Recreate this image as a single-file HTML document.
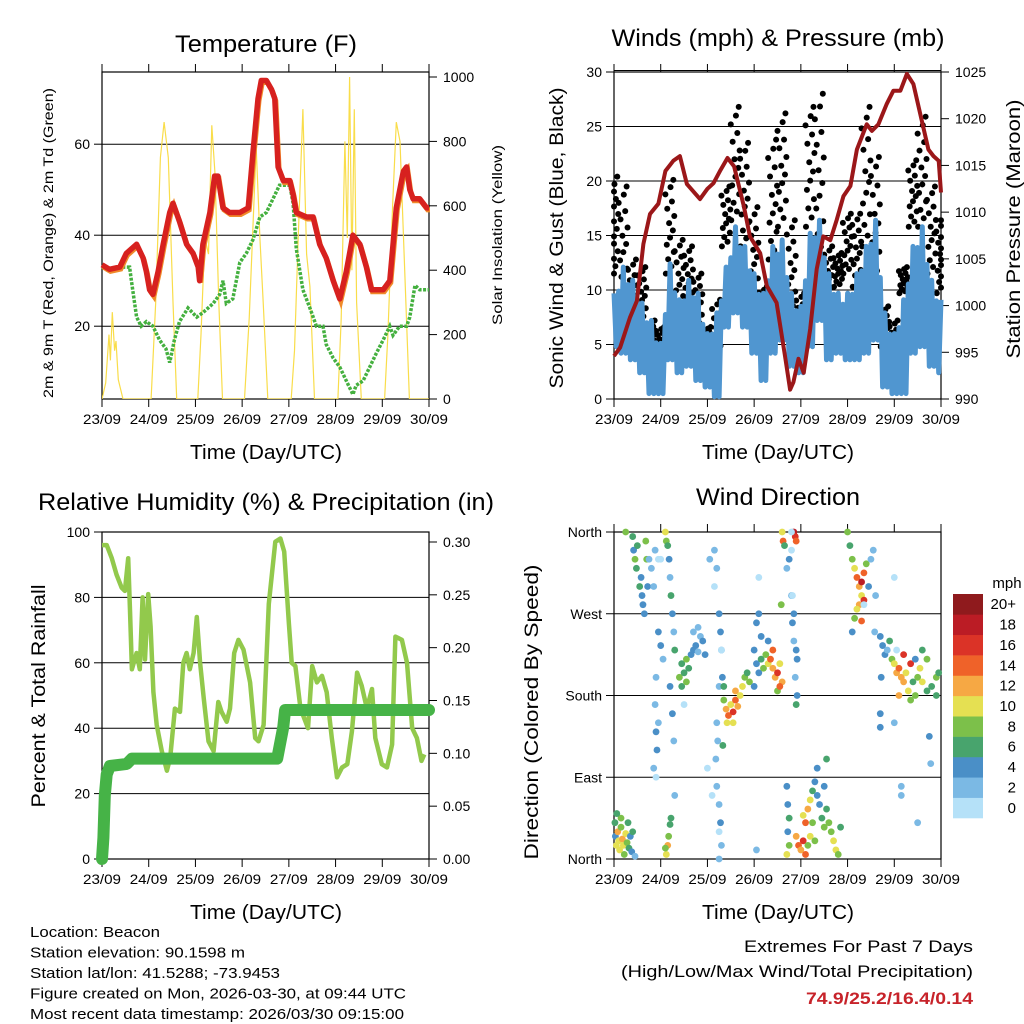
<!DOCTYPE html>
<html><head><meta charset="utf-8"><style>
html,body{margin:0;padding:0;background:#fff}
svg{display:block;font-family:"Liberation Sans",sans-serif}
</style></head><body>
<svg id="s" xmlns="http://www.w3.org/2000/svg" width="1024" height="1024" viewBox="0 0 1024 1024">
<rect width="1024" height="1024" fill="#fff"/>
</svg>
<script>
// ---------- DATA ----------
const dayLabels = ["23/09","24/09","25/09","26/09","27/09","28/09","29/09","30/09"];
// Temperature (F)
const tempDays = [0,0.16,0.38,0.52,0.74,0.88,0.95,1.02,1.09,1.2,1.31,1.45,1.52,1.66,1.81,1.95,2.06,2.09,2.16,2.31,2.41,2.48,2.59,2.73,2.95,3.13,3.23,3.34,3.41,3.52,3.63,3.7,3.77,3.88,4.02,4.09,4.16,4.38,4.52,4.66,4.8,4.95,5.09,5.23,5.37,5.52,5.66,5.77,5.87,6.02,6.16,6.3,6.45,6.52,6.59,6.66,6.8,6.95,7];
const temp2m = [33.5,32.5,33,36,38,35,32,28,27,32,38,45,47,43,38,36,33,30,38,45,53,53,46,45,45,46,58,70,74,74,72,70,55,52,52,49,45,44,44,38,35,30,26,32,40,38,33,28,28,28,30,46,54,55,50,48,48,46,46];
const dewDays = [0,0.16,0.38,0.59,0.63,0.74,0.84,0.95,1.09,1.23,1.37,1.45,1.55,1.66,1.84,2.03,2.16,2.38,2.52,2.59,2.66,2.8,2.95,3.09,3.23,3.38,3.52,3.66,3.8,4.02,4.09,4.16,4.3,4.45,4.59,4.73,4.8,4.95,5.09,5.23,5.37,5.44,5.59,5.73,5.87,6.02,6.16,6.23,6.37,6.52,6.59,6.7,6.8,7];
const dewPt = [33,32,33,33,30,22,20,21,20,17,15,12,17,21,24,22,23,25,27,30,25,26,34,36,39,44,45,48,51,51,47,37,28,24,20,20,16,13,11,8,5,7,8,11,14,17,20,18,20,20,22,29,28,28];
const solarDays = [0,0.08,0.15,0.18,0.22,0.27,0.3,0.35,0.45,1.05,1.15,1.25,1.33,1.42,1.52,1.6,2.05,2.12,2.2,2.28,2.35,2.42,2.5,2.58,3.05,3.15,3.25,3.3,3.38,3.45,3.55,4.05,4.12,4.2,4.3,4.38,4.45,4.55,5.05,5.12,5.2,5.25,5.3,5.35,5.4,5.45,5.55,6.05,6.12,6.22,6.3,6.38,6.48,6.58,7];
const solarVals = [0,50,200,120,270,150,180,60,0,0,300,750,860,750,300,0,0,200,500,450,850,700,300,0,0,250,600,780,500,300,0,0,150,500,900,450,350,0,0,250,800,500,1000,400,900,300,0,0,200,600,860,800,400,0,0];
// Winds (mph) & pressure (mb)
const windDays = [0,0.2,0.4,0.6,0.8,1.0,1.2,1.4,1.6,1.8,2.0,2.2,2.4,2.6,2.8,3.0,3.2,3.4,3.6,3.8,4.0,4.2,4.4,4.6,4.8,5.0,5.2,5.4,5.6,5.8,6.0,6.2,6.4,6.6,6.8,7.0];
const windHi = [9.7,12.1,10.9,8.8,7.2,5.1,12.4,9.1,10.9,9.7,6,7.9,12.1,15.8,14,11.5,9.7,14,14.6,9.7,8.5,15.2,16.4,11.5,9.7,9.7,11.5,14,16.4,7.9,6,9.1,14,15.8,10.9,9.1];
const windLo = [4.8,4.2,3.6,2.4,0.5,0.5,3.6,2.4,3,1.7,1.1,0.2,6.6,7.9,6.6,4.2,1.7,4.2,5.4,3,2.4,4.8,7.2,3.6,4.2,3.6,3.6,4.2,5.4,1.1,0.5,0.5,4.2,4.8,3,2.4];
const gustHi = [20.4,19.5,12.8,12.1,7.2,6.6,20.1,14.6,14,11.5,6.6,9.1,19.5,26.8,23.5,17.6,10.3,23.8,26.2,16.4,9.7,26.8,28,14,13.4,17,17,26.8,22.2,8.5,7.2,12.1,21.9,25.9,19.5,16.4];
const gustLo = [11.5,9.7,6.6,7.2,4.8,4.2,11.5,7.9,8.5,6.6,4.8,3.6,14,16.4,14,9.1,6.6,12.8,15.8,7.9,5.4,15.8,12.8,9.1,10.3,11.5,10.3,14,10.9,4.8,3.6,9.7,15.8,15.8,11.5,9.7];
const presDays = [0,0.13,0.34,0.49,0.63,0.77,0.95,1.1,1.27,1.41,1.56,1.84,2.0,2.13,2.28,2.43,2.57,2.78,2.91,3.13,3.27,3.48,3.66,3.77,3.84,3.95,4.06,4.2,4.34,4.48,4.63,4.77,4.91,5.06,5.2,5.41,5.52,5.66,5.84,5.98,6.13,6.27,6.41,6.73,6.84,6.95,7];
const pressure = [994.6,995.5,998.7,1000.5,1006.6,1009.8,1010.9,1014.4,1015.5,1016.0,1013.0,1011.4,1012.5,1013.1,1014.5,1015.8,1014.9,1010.6,1007.4,1005.6,1002.1,1000.3,994.6,991.0,991.8,994.3,992.8,997.5,1003.9,1007.4,1007.0,1009.2,1011.7,1012.8,1016.7,1019.4,1018.7,1019.4,1021.6,1023.0,1023.0,1024.8,1023.7,1016.7,1016.0,1015.5,1012.1];
// Relative humidity (%) & precipitation (in)
const rhDays = [0,0.1,0.21,0.31,0.42,0.49,0.56,0.6,0.64,0.74,0.81,0.87,0.92,0.99,1.04,1.1,1.17,1.28,1.39,1.46,1.56,1.67,1.74,1.81,1.88,1.96,2.03,2.1,2.18,2.28,2.39,2.49,2.56,2.67,2.74,2.83,2.92,3.03,3.17,3.28,3.35,3.46,3.57,3.71,3.82,3.9,4.0,4.06,4.14,4.25,4.41,4.5,4.6,4.71,4.81,4.92,5.03,5.14,5.25,5.35,5.46,5.56,5.67,5.78,5.85,5.99,6.1,6.21,6.28,6.42,6.53,6.64,6.74,6.84,6.9];
const rhVals = [96,96,92,87,83,82,92,76,58,63,58,80,61,81,71,51,41,33,27,31,46,45,60,63,58,63,74,60,49,36,33,48,45,42,46,63,67,64,54,37,36,41,78,97,98,94,72,60,59,46,40,59,54,56,51,37,25,28,29,39,57,53,46,52,37,29,28,35,68,67,60,40,37,30,32,53,53,52];
const rainDays = [0,0.03,0.06,0.1,0.17,0.53,0.64,3.75,3.88,3.92,7];
const rainVals = [0,0.02,0.06,0.08,0.088,0.09,0.095,0.095,0.125,0.141,0.141];
// Wind direction: [day, degrees, mph]
const dirDays=[],dirDeg=[],dirSpd=[];
const dirObs = [
[0.02,40,6],[0.03,25,4],[0.05,15,10],[0.08,30,12],[0.1,20,11],[0.12,10,10],[0.15,35,9],[0.18,22,12],[0.2,15,10],[0.22,5,8],[0.25,28,11],[0.28,18,9],[0.3,40,6],[0.32,12,7],[0.35,25,5],[0.38,8,4],[0.4,30,6],[0.15,45,8],[0.06,50,6],[0.45,3,3],
[1.12,5,10],[1.15,15,12],[1.17,25,8],[1.2,38,7],[1.22,45,6],[1.1,12,9],
[0.25,360,8],[0.4,355,6],[0.42,340,5],[0.45,330,8],[0.48,320,6],[0.5,345,7],[0.55,300,6],[0.58,310,4],[0.6,290,5],[0.62,280,4],[0.65,270,4],[0.68,350,8],[0.7,330,8],[0.72,300,4],[0.75,330,3],[0.8,320,3],[0.85,300,2],[0.88,340,3],
[0.95,250,4],[1.0,235,4],[1.05,220,2],[0.9,200,2],[0.88,170,3],[0.9,140,4],[0.92,120,4],[0.95,150,3],[0.85,100,2],[1.1,360,10],[1.12,350,8],[1.15,345,6],[1.18,330,4],[1.2,310,3],[1.22,290,6],[1.25,270,4],[1.28,250,3],[1.3,230,6],[1.2,190,4],[1.25,160,4],[1.28,130,3],[1.3,70,3],
[1.4,200,8],[1.45,215,6],[1.5,205,7],[1.55,220,8],[1.6,210,6],[1.65,225,5],[1.7,230,4],[1.75,235,4],[1.8,228,3],[1.85,245,3],[1.9,240,4],[1.95,225,4],[1.45,190,6],[1.55,195,8],[1.7,250,2],[1.8,255,3],
[2.15,340,2],[2.2,320,3],[2.25,270,4],[2.28,250,4],[2.3,230,3],[2.32,200,4],[2.25,190,3],[2.2,150,2],[2.22,130,3],[2.18,110,3],[2.2,80,2],[2.25,60,3],[2.28,40,4],[2.3,15,3],[2.25,0,2],[2.05,330,2],
[2.35,175,8],[2.4,165,12],[2.45,158,14],[2.5,170,10],[2.55,162,16],[2.6,175,14],[2.65,168,12],[2.7,180,10],[2.75,190,10],[2.8,200,8],[2.85,205,6],[2.9,195,8],[2.42,150,10],[2.55,150,10],[2.35,190,6],[2.6,185,12],[2.33,125,6],
[3.0,230,4],[3.05,215,4],[3.1,205,4],[3.0,190,4],[3.15,220,6],[3.2,210,8],[3.25,225,8],[3.3,215,10],[3.35,220,14],[3.4,210,12],[3.45,200,12],[3.5,205,16],[3.55,215,10],[3.6,195,12],[3.5,185,8],[3.3,240,4],[3.15,245,4],[3.4,230,14],[3.55,190,14],[3.05,260,4],[3.1,270,4],
[3.6,360,10],[3.62,350,14],[3.65,345,6],[3.7,320,2],[3.58,280,8],[3.85,360,18],[3.88,355,16],[3.9,350,14],[3.75,330,4],[3.85,270,4],[3.82,260,4],[3.85,240,2],[3.9,230,4],[3.92,220,4],[3.88,200,2],[3.92,180,4],[3.9,170,6],[3.8,290,2],
[3.7,80,4],[3.72,60,4],[3.75,45,6],[3.72,30,4],[3.7,5,10],[3.75,15,8],[3.9,25,12],[3.95,15,14],[4.0,10,12],[4.05,20,16],[4.1,40,14],[4.15,55,12],[4.2,65,10],[4.1,5,14],[4.2,25,10],[4.25,75,6],[4.3,85,4],[4.35,100,4],[4.35,70,4],[4.4,60,4],[4.45,45,6],[4.5,35,8],[4.5,80,4],[4.55,55,6],[4.6,40,8],[4.65,30,8],[4.7,20,10],[4.75,10,10],[4.8,5,8],[4.85,35,6],[4.55,110,6],[4.25,40,8],[4.15,15,8],[4.05,48,10],[4.3,20,8],
[5.0,360,8],[5.05,345,6],[5.1,330,8],[5.15,320,10],[5.2,310,14],[5.25,300,12],[5.3,305,18],[5.35,315,14],[5.3,290,10],[5.25,280,12],[5.2,275,10],[5.35,285,16],[5.4,325,8],[5.45,300,4],[5.5,330,2],[5.55,340,2],[5.15,265,8],[5.3,262,14],[5.1,250,4],[5.6,290,2],[5.58,250,2],
[5.7,245,4],[5.75,235,4],[5.8,225,4],[5.85,230,2],[5.9,240,6],[5.72,200,4],[5.7,160,4],[5.7,145,4],[5.95,220,8],[6.0,215,10],[6.05,205,12],[6.1,210,14],[6.15,200,12],[6.2,195,12],[6.25,205,10],[6.3,185,10],[6.35,175,8],[6.4,195,6],[6.45,180,8],[6.5,200,8],[6.55,210,10],[6.6,195,10],[6.7,185,6],[6.8,190,6],[6.9,200,8],[6.95,205,6],[6.1,180,12],[6.2,225,16],[6.35,215,16],[6.45,220,4],[6.6,230,6],[6.7,220,8],[6.9,180,6],[6.75,135,4],[6.78,105,2],[6.0,150,2],[6.15,80,2],[6.15,70,2],[6.5,40,2],
[1.0,330,0],[0.95,330,0],[1.5,170,0],[0.9,90,0],[2.0,100,0],[2.1,70,0],[2.3,230,0],[3.1,310,0],[3.8,340,0],[3.82,290,0],[2.15,300,0],[6.0,310,1],[6.05,230,0],[5.35,280,0],[2.25,30,0],[3.05,10,2],[3.8,360,0]
];
dirObs.forEach(o=>{dirDays.push(o[0]);dirDeg.push(o[1]);dirSpd.push(o[2]);});
const speedLabels = ["0","2","4","6","8","10","12","14","16","18","20+"];
const speedColors = ["#b5e1f8","#7bb9e4","#4a8fc7","#48a46d","#7cc04a","#e5e052","#f6a844","#ef6229","#db3327","#bb1c25","#8f1a1d"];

// ---------- HELPERS ----------
const S = document.getElementById('s');
const NS = "http://www.w3.org/2000/svg";
function mk(tag, attrs, parent){const e=document.createElementNS(NS,tag);for(const k in attrs)e.setAttribute(k,attrs[k]);(parent||S).appendChild(e);return e;}
function txt(str,x,y,size,anchor,extra,parent){const e=mk('text',Object.assign({x:x,y:y,'font-size':size,'text-anchor':anchor||'middle',fill:'#000'},extra||{}),parent);e.textContent=str;return e;}
function pts(arr){return arr.map(p=>p[0].toFixed(1)+','+p[1].toFixed(1)).join(' ');}

function panel(x0,y0,w,h){
  return {x0,y0,w,h,
    X:d=>x0+d*w/7};
}
function drawFrame(P,name,topTicks){
  const g=mk('g',{});
  
  
  const f=mk('rect',{x:P.x0,y:P.y0,width:P.w,height:P.h,fill:'none',stroke:'#000','stroke-width':1.2},g);
  
  
  for(let i=0;i<dayLabels.length;i++){
    const x=P.X(i);
    mk('line',{x1:x,y1:P.y0+P.h,x2:x,y2:P.y0+P.h+8,stroke:'#000','stroke-width':1},g);
    if(topTicks) mk('line',{x1:x,y1:P.y0,x2:x,y2:P.y0-8,stroke:'#000','stroke-width':1},g);
    const t=txt(dayLabels[i],x,P.y0+P.h+25,14,'middle',{textLength:38,lengthAdjust:'spacingAndGlyphs'},g);
    
    
  }
  return g;
}
function yTicks(P,ticks,Y,labels,side,g){
  ticks.forEach((v,i)=>{
    const y=Y(v);
    if(side==='left'){
      mk('line',{x1:P.x0-8,y1:y,x2:P.x0,y2:y,stroke:'#000','stroke-width':1},g);
      const t=txt(labels[i],P.x0-12,y+5,14,'end',{},g);
      
      
    } else {
      mk('line',{x1:P.x0+P.w,y1:y,x2:P.x0+P.w+8,y2:y,stroke:'#000','stroke-width':1},g);
      const t=txt(labels[i],P.x0+P.w+14,y+5,14,'start',{},g);
      
      
    }
  });
}
function grid(P,vals,Y,g){vals.forEach(v=>{mk('line',{x1:P.x0,y1:Y(v),x2:P.x0+P.w,y2:Y(v),stroke:'#000','stroke-width':1},g);});}
function vtitle(str,x,y,size,len,name){
  const t=txt(str,0,0,size,'middle',{transform:`translate(${x},${y}) rotate(-90)`,textLength:len,lengthAdjust:'spacingAndGlyphs'});
  
  
}
function title(str,x,y,size,len,name){
  const t=txt(str,x,y,size,'middle',{textLength:len,lengthAdjust:'spacingAndGlyphs'});
  
  
}

// ---------- PANEL 1: Temperature ----------
{
const P=panel(102,72,327,327);
const Y=v=>399-(v-4)*4.55;
const YS=v=>399-v*0.322;
const g=drawFrame(P,'temperature',true);
grid(P,[20,40,60],Y,g);
yTicks(P,[20,40,60],Y,["20","40","60"],'left',g);
yTicks(P,[0,200,400,600,800,1000],YS,["0","200","400","600","800","1000"],'right',g);
const cp=mk('clipPath',{id:'c1'});mk('rect',{x:P.x0,y:P.y0,width:P.w,height:P.h},cp);
const sol=mk('polyline',{points:pts(solarDays.map((d,i)=>[P.X(d),YS(solarVals[i])])),fill:'none',stroke:'#f9dd4a','stroke-width':1.2,'clip-path':'url(#c1)'});


const dew=mk('polyline',{points:pts(dewDays.map((d,i)=>[P.X(d),Y(dewPt[i])])),fill:'none',stroke:'#44b03f','stroke-width':3.5,'stroke-dasharray':'3 1.5'});


const t9=mk('polyline',{points:pts(tempDays.map((d,i)=>[P.X(d)+1,Y(temp2m[i])+2])),fill:'none',stroke:'#f08a2a','stroke-width':5});


const t2=mk('polyline',{points:pts(tempDays.map((d,i)=>[P.X(d),Y(temp2m[i])])),fill:'none',stroke:'#d7211f','stroke-width':5.5,'stroke-linejoin':'round'});


title("Temperature (F)",266,52,24,182,'temperature-title');
title("Time (Day/UTC)",266,459,20,152,'temperature-x-title');
vtitle("2m & 9m T (Red, Orange) & 2m Td (Green)",53,243,14,310,'temperature-y-title');
vtitle("Solar Insolation (Yellow)",502,235,14,180,'solar-y-title');
}

// ---------- PANEL 2: Winds ----------
{
const P=panel(614,72,327,327);
const Y=v=>399-v*10.9;
const YP=v=>399-(v-990)*9.343;
const g=drawFrame(P,'winds',true);
grid(P,[5,10,15,20,25,30],Y,g);
yTicks(P,[0,5,10,15,20,25,30],Y,["0","5","10","15","20","25","30"],'left',g);
yTicks(P,[990,995,1000,1005,1010,1015,1020,1025],YP,["990","995","1000","1005","1010","1015","1020","1025"],'right',g);
const gg=mk('g',{});


const offs=[-0.09,0.03,-0.04,0.08,-0.07,0.0,0.06,-0.02,0.09,-0.06,0.04,-0.1,0.01,0.07];
windDays.forEach((d,i)=>{
  offs.forEach((o,k)=>{
    const dd=Math.min(7,Math.max(0,d+o));
    const v=gustLo[i]+(gustHi[i]-gustLo[i])*(k/(offs.length-1));
    const c=mk('circle',{cx:P.X(dd),cy:Y(v),r:3,fill:'#000'},gg);
    
    
  });
});
const zz=[];
windDays.forEach((d,i)=>{zz.push([P.X(d),Y(windHi[i])]);if(i<windDays.length-1){zz.push([P.X(d+0.05),Y(windLo[i])]);zz.push([P.X(d+0.1),Y((windHi[i]+windHi[i+1])/2-1)]);zz.push([P.X(d+0.15),Y(windLo[i+1])]);}});
const wl=mk('polyline',{points:pts(zz),fill:'none',stroke:'#5096d0','stroke-width':5,'stroke-linejoin':'round'});


const pl=mk('polyline',{points:pts(presDays.map((d,i)=>[P.X(d),YP(pressure[i])])),fill:'none',stroke:'#9b1719','stroke-width':4,'stroke-linejoin':'round'});


mk('line',{x1:P.x0,y1:P.y0-1.5,x2:P.x0+P.w,y2:P.y0-1.5,stroke:'#000','stroke-width':1},g);
title("Winds (mph) & Pressure (mb)",778,46,24,333,'winds-title');
title("Time (Day/UTC)",778,459,20,152,'winds-x-title');
vtitle("Sonic Wind & Gust (Blue, Black)",563,238,19,301,'winds-y-title');
vtitle("Station Pressure (Maroon)",1020,229,19,259,'pressure-y-title');
}

// ---------- PANEL 3: RH & Precip ----------
{
const P=panel(102,532,327,327);
const Y=v=>859-v*3.27;
const YR=v=>859-v*1056.7;
const g=drawFrame(P,'humidity',false);
grid(P,[20,40,60,80],Y,g);
yTicks(P,[0,20,40,60,80,100],Y,["0","20","40","60","80","100"],'left',g);
yTicks(P,[0,0.05,0.1,0.15,0.2,0.25,0.3],YR,["0.00","0.05","0.10","0.15","0.20","0.25","0.30"],'right',g);
const rh=mk('polyline',{points:pts(rhDays.map((d,i)=>[P.X(d),Y(rhVals[i])])),fill:'none',stroke:'#92c94c','stroke-width':4.5,'stroke-linejoin':'round'});


const rn=mk('polyline',{points:pts(rainDays.map((d,i)=>[P.X(d),YR(rainVals[i])])),fill:'none',stroke:'#46b347','stroke-width':12,'stroke-linejoin':'round','stroke-linecap':'round'});


title("Relative Humidity (%) & Precipitation (in)",266,510,24,456,'humidity-title');
title("Time (Day/UTC)",266,919,20,152,'humidity-x-title');
vtitle("Percent & Total Rainfall",45,696,19,223,'humidity-y-title');
}

// ---------- PANEL 4: Wind direction ----------
{
const P=panel(614,532,327,327);
const Y=v=>859-v*327/360;
const g=drawFrame(P,'direction',true);
grid(P,[90,180,270],Y,g);
yTicks(P,[0,90,180,270,360],Y,["North","East","South","West","North"],'left',g);
const dg=mk('g',{});


dirDays.forEach((d,i)=>{
  const b=Math.min(10,Math.floor(dirSpd[i]/2));
  const c=mk('circle',{cx:P.X(d),cy:Y(dirDeg[i]),r:3.4,fill:speedColors[b]},dg);
  
  
});
title("Wind Direction",778,505,24,164,'direction-title');
title("Time (Day/UTC)",778,919,20,152,'direction-x-title');
vtitle("Direction (Colored By Speed)",538,712,19,295,'direction-y-title');
const lg=mk('g',{});


const bh=224/11;
speedLabels.forEach((l,i)=>{
  const y=594+(10-i)*bh;
  const r=mk('rect',{x:953,y:y,width:30,height:bh+0.3,fill:speedColors[i]},lg);
  
  
  const t=txt(l,1016,y+bh/2+5,15,'end',{},lg);
  
  
});
const mt=txt("mph",1007,588,15,'middle',{},lg);


}

// ---------- FOOTER ----------
const foot=[["Location: Beacon",130],["Station elevation: 90.1598 m",215],["Station lat/lon: 41.5288; -73.9453",250],["Figure created on Mon, 2026-03-30, at 09:44 UTC",376],["Most recent data timestamp: 2026/03/30 09:15:00",374]];
foot.forEach((f,i)=>{
  const t=txt(f[0],30,937+i*20.5,15,'start',{textLength:f[1],lengthAdjust:'spacingAndGlyphs'});
  
  
});
const e1=txt("Extremes For Past 7 Days",973,952,17,'end',{textLength:229,lengthAdjust:'spacingAndGlyphs'});


const e2=txt("(High/Low/Max Wind/Total Precipitation)",973,977,17,'end',{textLength:352,lengthAdjust:'spacingAndGlyphs'});


const e3=txt("74.9/25.2/16.4/0.14",973,1004,17,'end',{fill:'#c7232a','font-weight':'bold',textLength:167,lengthAdjust:'spacingAndGlyphs'});


</script>
</body></html>
